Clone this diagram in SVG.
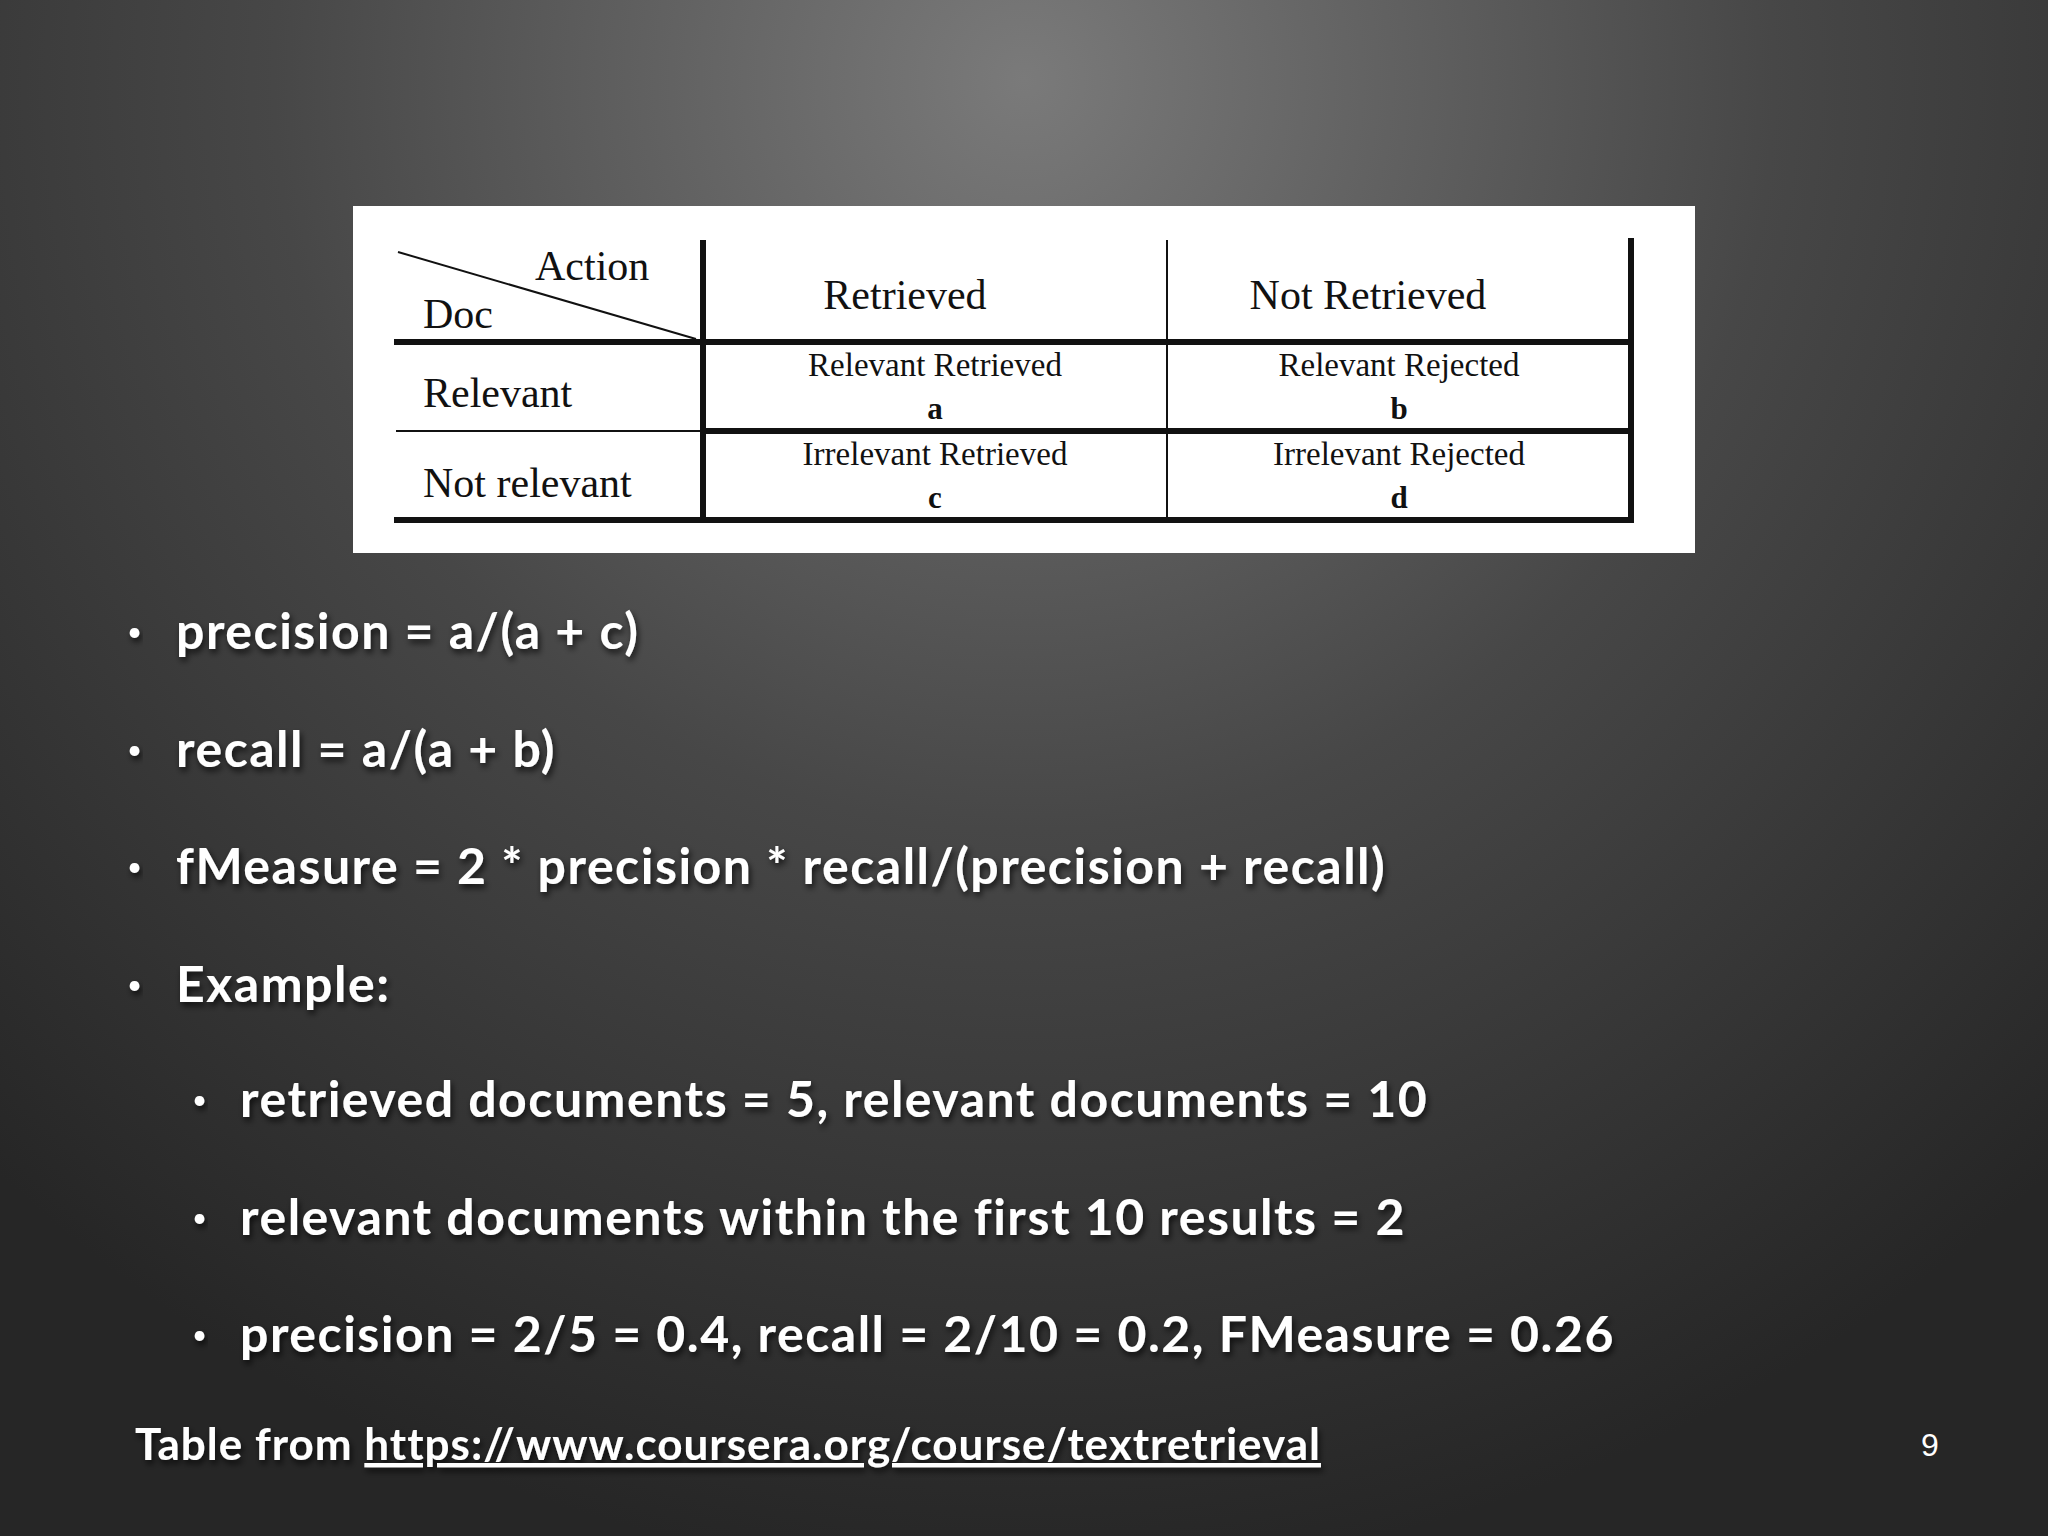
<svg xmlns="http://www.w3.org/2000/svg" width="2048" height="1536" viewBox="0 0 2048 1536">
<defs>
<radialGradient id="bg" cx="1024" cy="80" r="1500" gradientUnits="userSpaceOnUse">
<stop offset="0" stop-color="#7a7a7a"/><stop offset="0.5" stop-color="#474747"/><stop offset="1" stop-color="#262626"/>
</radialGradient>
<filter id="sh" x="-5%" y="-20%" width="110%" height="140%"><feDropShadow dx="2" dy="4" stdDeviation="3" flood-color="#000" flood-opacity="0.7"/></filter>
</defs>
<style>
.t{font-family:"Liberation Serif",serif;fill:#111}
.b{font-family:Lato,"Open Sans",sans-serif;fill:#fff;font-size:50px;font-weight:bold;letter-spacing:1.5px;filter:url(#sh)}
.d{font-family:Lato,sans-serif;fill:#fff;font-size:26px;filter:url(#sh)}
.thin{stroke:#111;stroke-width:2;fill:none}
.thick{stroke:#111;stroke-width:6;fill:none}
</style>
<rect width="2048" height="1536" fill="url(#bg)"/>
<g id="table">
<rect x="353" y="206" width="1342" height="347" fill="#fff"/>
<line class="thick" x1="703" y1="240" x2="703" y2="522"/>
<line class="thin" x1="1167" y1="240" x2="1167" y2="522"/>
<line class="thick" x1="1631" y1="238" x2="1631" y2="522"/>
<line class="thick" x1="394" y1="342" x2="1634" y2="342"/>
<line class="thin" x1="396" y1="431" x2="703" y2="431"/>
<line class="thick" x1="703" y1="431" x2="1634" y2="431"/>
<line class="thick" x1="394" y1="520" x2="1634" y2="520"/>
<line class="thin" x1="398" y1="252" x2="696" y2="339"/>
<text class="t" x="535" y="280" font-size="42">Action</text>
<text class="t" x="423" y="328" font-size="42">Doc</text>
<text class="t" x="905" y="309" font-size="42" text-anchor="middle">Retrieved</text>
<text class="t" x="1368" y="309" font-size="42" text-anchor="middle">Not Retrieved</text>
<text class="t" x="423" y="407" font-size="42">Relevant</text>
<text class="t" x="423" y="497" font-size="42">Not relevant</text>
<text class="t" x="935" y="376" font-size="33" text-anchor="middle">Relevant Retrieved</text>
<text class="t" x="935" y="419" font-size="31" font-weight="bold" text-anchor="middle">a</text>
<text class="t" x="1399" y="376" font-size="33" text-anchor="middle">Relevant Rejected</text>
<text class="t" x="1399" y="419" font-size="31" font-weight="bold" text-anchor="middle">b</text>
<text class="t" x="935" y="465" font-size="33" text-anchor="middle">Irrelevant Retrieved</text>
<text class="t" x="935" y="508" font-size="31" font-weight="bold" text-anchor="middle">c</text>
<text class="t" x="1399" y="465" font-size="33" text-anchor="middle">Irrelevant Rejected</text>
<text class="t" x="1399" y="508" font-size="31" font-weight="bold" text-anchor="middle">d</text>
</g>
<g id="bullets">
<text class="d" x="127" y="641">•</text><text class="b" x="176" y="649">precision = a/(a + c)</text>
<text class="d" x="127" y="759">•</text><text class="b" x="176" y="767">recall = a/(a + b)</text>
<text class="d" x="127" y="876">•</text><text class="b" x="176" y="884">fMeasure = 2 * precision * recall/(precision + recall)</text>
<text class="d" x="127" y="994">•</text><text class="b" x="176" y="1002">Example:</text>
<text class="d" x="192" y="1109">•</text><text class="b" x="240" y="1117">retrieved documents = 5, relevant documents = 10</text>
<text class="d" x="192" y="1227">•</text><text class="b" x="240" y="1235">relevant documents within the first 10 results = 2</text>
<text class="d" x="192" y="1344">•</text><text class="b" x="240" y="1352">precision = 2/5 = 0.4, recall = 2/10 = 0.2, FMeasure = 0.26</text>
</g>
<g id="footer">
<text class="b" x="135" y="1460" style="font-size:44px;letter-spacing:1px">Table from <tspan text-decoration="underline">https://www.coursera.org/course/textretrieval</tspan></text>
<text x="1930" y="1456" font-family="Liberation Sans,sans-serif" font-size="32" fill="#fff" text-anchor="middle">9</text>
</g>
</svg>
